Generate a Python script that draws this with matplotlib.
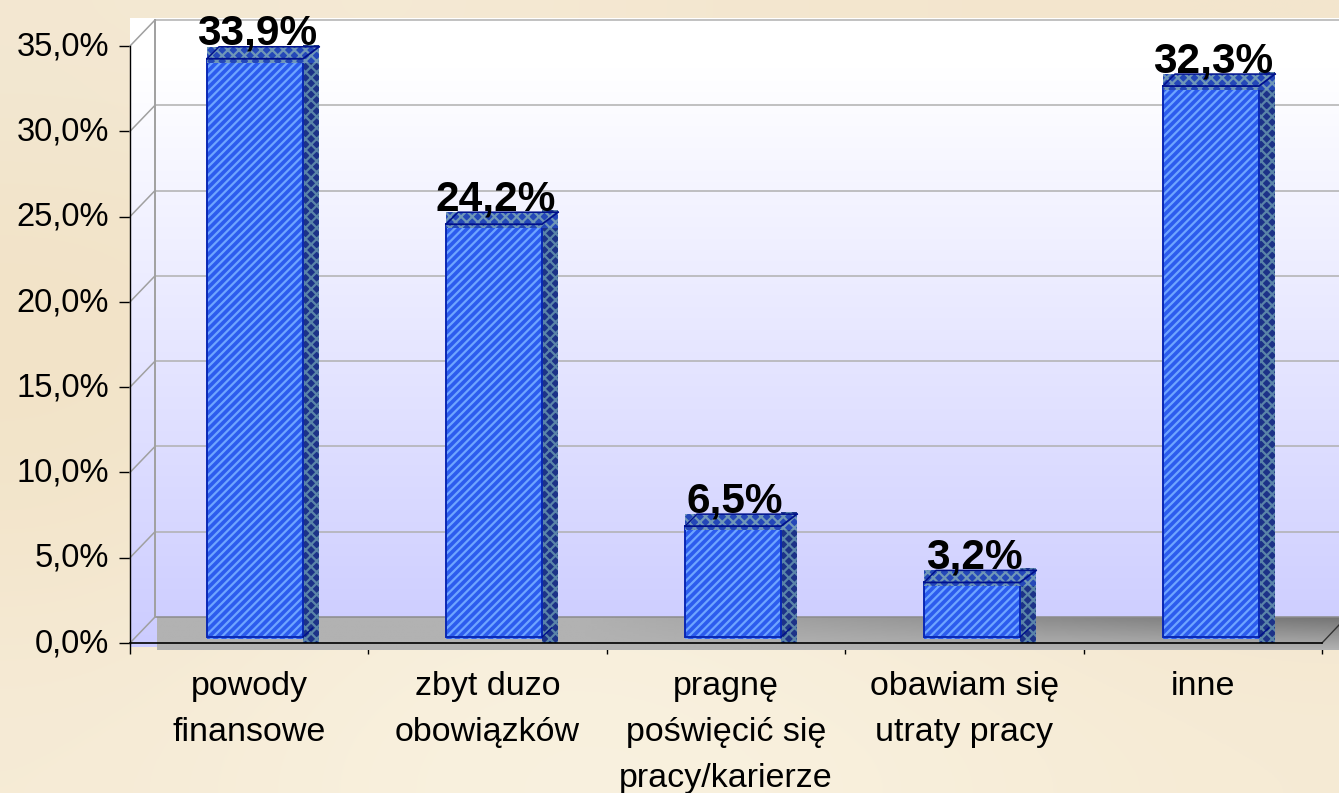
import matplotlib
matplotlib.use("Agg")
import matplotlib.pyplot as plt
from matplotlib.colors import LinearSegmentedColormap
from matplotlib.ticker import FuncFormatter
from matplotlib.transforms import ScaledTranslation
import numpy as np

# Data
categories = ["powody\nfinansowe", "zbyt duzo\nobowiązków", "pragnę\npoświęcić się\npracy/karierze",
              "obawiam się\nutraty pracy", "inne"]
values = [33.9, 24.2, 6.5, 3.2, 32.3]
y_ticks = [0, 5, 10, 15, 20, 25, 30, 35]

W, H = 1339, 793
Y0_PX, Y35_PX = 643, 46
X0_PX, X5_PX = 130, 1322
px_per_y = (Y0_PX - Y35_PX) / 35
px_per_x = (X5_PX - X0_PX) / 5


# Pixel helpers, the axes fill the whole figure
def dx(px):
    return px / px_per_x


def dy(px):
    return px / px_per_y


def xp(px):
    return (px - X0_PX) / px_per_x


def yp(px):
    return (Y0_PX - px) / px_per_y


plt.rcParams["font.family"] = ["Liberation Sans", "DejaVu Sans"]
plt.rcParams["hatch.linewidth"] = 1.6

fig = plt.figure(figsize=(W / 100, H / 100), dpi=100)
ax = fig.add_axes([0, 0, 1, 1])

# Beige mottled background
bg = np.array([
    [[243, 232, 210], [245, 234, 213], [244, 231, 208], [243, 230, 206], [243, 229, 205]],
    [[242, 227, 200], [244, 230, 206], [244, 231, 208], [243, 229, 205], [243, 229, 205]],
    [[242, 227, 199], [245, 232, 208], [245, 233, 211], [244, 231, 208], [243, 228, 204]],
    [[243, 230, 205], [247, 237, 217], [247, 238, 219], [245, 233, 211], [243, 229, 205]],
    [[246, 235, 214], [249, 241, 222], [249, 241, 223], [248, 239, 219], [246, 235, 213]],
]) / 255
ax.imshow(bg, extent=(xp(0), xp(W), yp(H), yp(0)), aspect="auto", interpolation="bicubic", zorder=0)

# Wall gradient, white on top to lavender at the floor
wall_cmap = LinearSegmentedColormap.from_list("wall", [(0, "#ffffff"), (0.08, "#ffffff"), (1, "#ccccff")])
wall = np.linspace(0, 1, 256).reshape(-1, 1)
ax.imshow(wall, extent=(xp(130), xp(W), yp(647), yp(19)), aspect="auto", cmap=wall_cmap, zorder=1)

# Floor, gets darker toward the back right corner
fx = np.linspace(0, 1, 200)
fy = np.linspace(0, 1, 40)
floor = 178 - 62 * np.outer(1 - fy, np.clip((fx - 0.35) / 0.65, 0, 1))
ax.imshow(floor, extent=(xp(157), xp(W), yp(650), yp(617)), aspect="auto", cmap="gray", vmin=0, vmax=255,
          zorder=2)

# Gridlines on back and side wall
back_shift_x, back_shift_y = 25, 26
for t in y_ticks:
    back_y = t + dy(back_shift_y)
    col = "#8c8c8c" if t == 0 else "#b0b0b0"
    ax.plot([xp(155), xp(W)], [back_y, back_y], color=col, lw=1.1, zorder=3)
    ax.plot([0, dx(back_shift_x)], [t, back_y], color="#a0a0a0", lw=1.1, zorder=3)
ax.plot([dx(back_shift_x)] * 2, [dy(back_shift_y), 35 + dy(back_shift_y)], color="#a0a0a0", lw=1.4, zorder=3)
ax.plot([5, xp(W)], [0, yp(625)], color="#333333", lw=1, zorder=3)

# Bars, front face with stripes plus top and side bands
bar_w = dx(96)
depth_x = dx(16)
top_h = dy(12)
floor_lift = dy(6)
for i, v in enumerate(values):
    left = xp(207 + 239 * i)
    top = floor_lift + v
    ax.bar(left + bar_w, v + floor_lift + top_h + dy(2), width=depth_x, bottom=-dy(-2) - dy(2), align="edge",
           color="#1c3288", hatch="xxx", edgecolor="#5a84a8", lw=0, zorder=4)
    ax.bar(left, v + dy(2), width=bar_w, bottom=floor_lift - dy(2), align="edge",
           color="#2c5cee", hatch="////", edgecolor="#6ea4ff", lw=0, zorder=5)
    ax.bar(left, v, width=bar_w, bottom=floor_lift, align="edge", color="none",
           edgecolor="#0a28b4", lw=1.4, zorder=6)
    # band over the top of the bar, runs a little past the front edge
    ax.bar(left, top_h + dy(4), width=bar_w + depth_x, bottom=top - dy(4), align="edge",
           color="#2447b8", hatch="xxx", edgecolor="#6f97b8", lw=0, zorder=7)
    # top face outline
    ax.plot([left, left + dx(12), left + bar_w + depth_x], [top, top + top_h, top + top_h], color="#00108c",
            lw=1.1, zorder=8)
    ax.plot([left, left + bar_w, left + bar_w + depth_x], [top, top, top + top_h], color="#00108c", lw=1.3, zorder=8)
    ax.plot([left + bar_w, left + bar_w + depth_x * 0.6], [floor_lift, floor_lift + dy(9)], color="#00108c",
            lw=1, zorder=8)
    ax.text(left + bar_w / 2 + dx(2), top + dy(14), f"{v:.1f}%".replace(".", ","), ha="center", va="baseline",
            fontsize=30.5, fontweight="bold", color="black", zorder=9)

# Axes through the library, ticks on integer category edges
ax.set_xlim(xp(0), xp(W))
ax.set_ylim(yp(H), yp(0))
for s in ["top", "right"]:
    ax.spines[s].set_visible(False)
ax.spines["left"].set_position(("data", 0))
ax.spines["left"].set_bounds(0, 35)
ax.spines["bottom"].set_position(("data", 0))
ax.spines["bottom"].set_bounds(0, 5)
ax.spines["left"].set_zorder(10)
ax.spines["bottom"].set_zorder(10)
ax.spines["left"].set_linewidth(1)
ax.spines["bottom"].set_linewidth(1.2)

ax.set_yticks(y_ticks)
ax.yaxis.set_major_formatter(FuncFormatter(lambda t, p: f"{t:.1f}%".replace(".", ",")))
ax.tick_params(axis="y", length=8, width=1, labelsize=23.5, pad=7)
ax.set_xticks(range(6))
ax.set_xticklabels([])
ax.tick_params(axis="x", which="major", length=8, width=1)
ax.set_xticks(np.arange(5) + 0.5, minor=True)
ax.set_xticklabels(categories, minor=True, fontsize=24.5, linespacing=1.62)
ax.tick_params(axis="x", which="minor", length=0, pad=20)

# y labels sit a touch above their ticks
shift = ScaledTranslation(0, 2 / 72, fig.dpi_scale_trans)
for lab in ax.get_yticklabels():
    lab.set_transform(lab.get_transform() + shift)

fig.savefig("out.png", dpi=100)
